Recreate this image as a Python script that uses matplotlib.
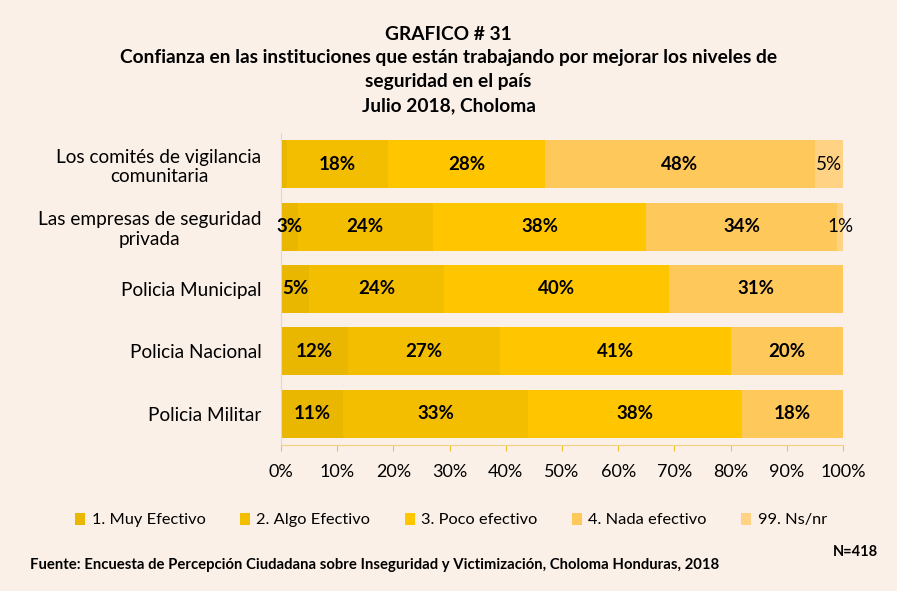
import matplotlib.pyplot as plt
import numpy as np

plt.rcParams['font.family'] = ['Lato', 'DejaVu Sans']

categories = ["Los comités de vigilancia\ncomunitaria",
              "Las empresas de seguridad\nprivada",
              "Policia Municipal",
              "Policia Nacional",
              "Policia Militar"]
series_names = ["1. Muy Efectivo", "2. Algo Efectivo", "3. Poco efectivo",
                "4. Nada efectivo", "99. Ns/nr"]
muy = [1, 3, 5, 12, 11]
algo = [18, 24, 24, 27, 33]
poco = [28, 38, 40, 41, 38]
nada = [48, 34, 31, 20, 18]
nsnr = [5, 1, 0, 0, 0]
series = [muy, algo, poco, nada, nsnr]
colors = ["#E9B600", "#F4BE00", "#FFC600", "#FFC85A", "#FFD284"]
bg = "#FBF0E8"

fig = plt.figure(figsize=(8.97, 5.91), dpi=100, facecolor=bg)
ax = fig.add_axes([281/897, 1-445/591, (843-281)/897, (445-133)/591], facecolor=bg)

y = np.arange(len(categories))
left = np.zeros(len(categories))
for i, (vals, c, name) in enumerate(zip(series, colors, series_names)):
    vals = np.array(vals, dtype=float)
    ax.barh(y, vals, left=left, height=0.77, color=c, label=name, edgecolor='none')
    for j, v in enumerate(vals):
        cx = left[j] + v/2
        if i == 4:
            if v >= 1:
                ax.text(cx, y[j], f"{int(v)}%", ha='center', va='center',
                        fontsize=13.5, color='black')
        elif v >= 3:
            ax.text(cx, y[j], f"{int(v)}%", ha='center', va='center',
                    fontsize=13.5, fontweight='bold', color='black')
    left += vals

ax.set_xlim(0, 100)
ax.set_ylim(len(categories)-0.5, -0.5)
ax.set_yticks(y)
ax.set_yticklabels(categories, fontsize=13.7, ha='right', multialignment='center')
ax.tick_params(axis='y', length=0, pad=14)
ax.set_xticks(np.arange(0, 101, 10))
ax.set_xticklabels([f"{t}%" for t in range(0, 101, 10)], fontsize=13)
ax.tick_params(axis='x', length=4, color='#F2C230', pad=10)
for s in ['top', 'right']:
    ax.spines[s].set_visible(False)
ax.spines['bottom'].set_color('#F2D080')
ax.spines['left'].set_color('#D9D9D9')

tfs = 13.8
fig.text(0.5, 1-35/591, "GRAFICO # 31", ha='center', va='center', fontsize=tfs, fontweight='bold')
fig.text(0.5, 1-58/591, "Confianza en las instituciones que están trabajando por mejorar los niveles de",
         ha='center', va='center', fontsize=tfs, fontweight='bold')
fig.text(0.5, 1-82/591, "seguridad en el país", ha='center', va='center', fontsize=tfs, fontweight='bold')
fig.text(0.5, 1-106/591, "Julio 2018, Choloma", ha='center', va='center', fontsize=tfs, fontweight='bold')

handles, labels = ax.get_legend_handles_labels()
fig.legend(handles, labels, loc='center', bbox_to_anchor=(451/897, 1-520/591), ncol=5,
           frameon=False, fontsize=11.8, handlelength=0.6, handleheight=0.8,
           handletextpad=0.4, columnspacing=2.1)

fig.text(30/897, 1-565/591,
         "Fuente: Encuesta de Percepción Ciudadana sobre Inseguridad y Victimización, Choloma Honduras, 2018",
         ha='left', va='center', fontsize=10.7, fontweight='bold')
fig.text(878/897, 1-552/591, "N=418", ha='right', va='center', fontsize=10.5, fontweight='bold')

fig.savefig("out.png", dpi=100, facecolor=bg)
